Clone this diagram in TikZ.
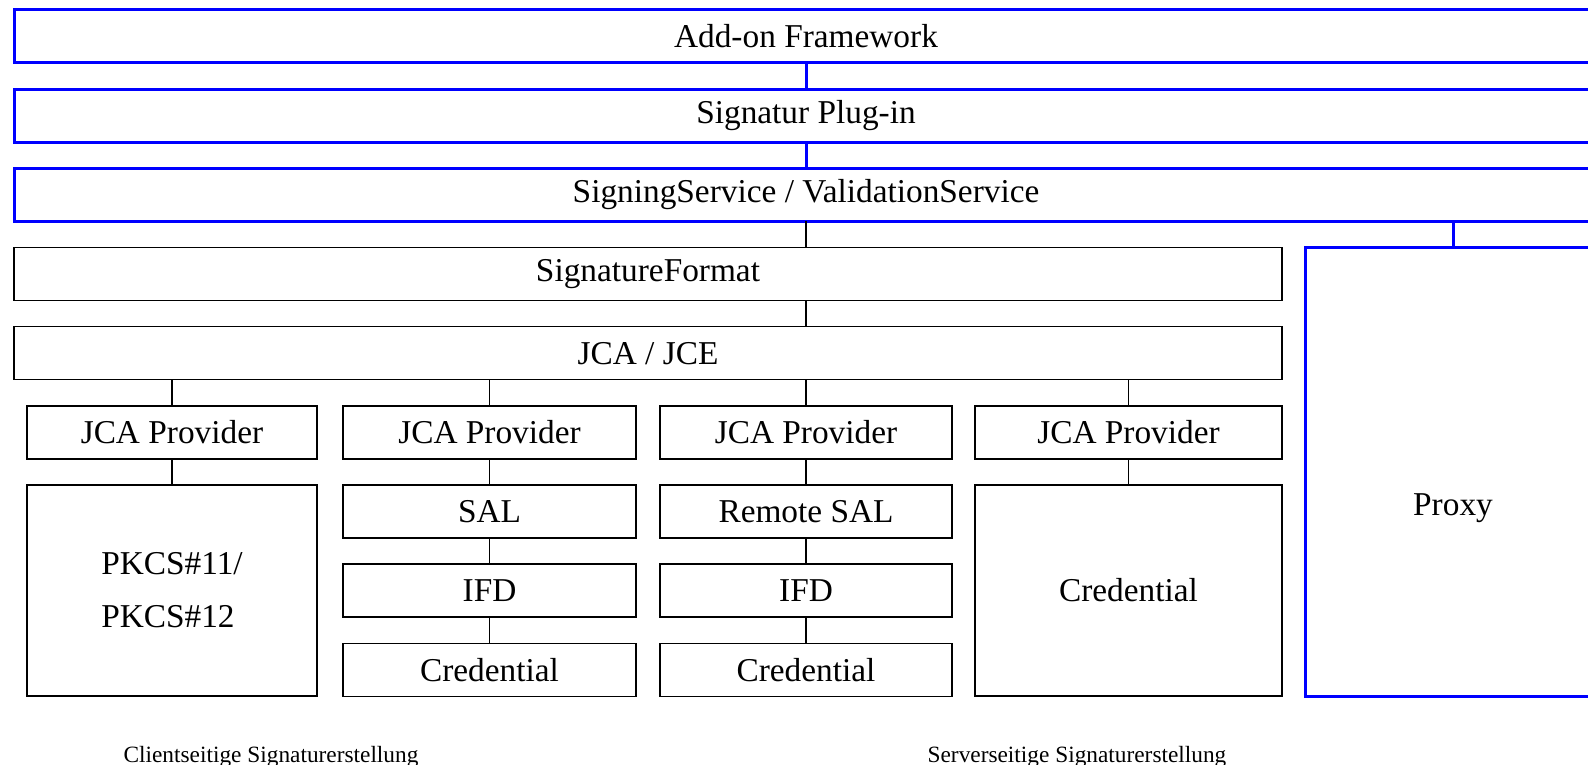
\documentclass[tikz,border=0pt]{standalone}
\usepackage{fontspec}
\setmainfont{Liberation Serif}
\usepackage{xcolor}
\definecolor{fwblue}{HTML}{0000FF}
\usepackage{tikz}
\usetikzlibrary{positioning}

\begin{document}
\begin{tikzpicture}[-,node distance=7.85pt,line width=0.45pt]
              \tikzstyle{box}=[draw,rectangle,inner sep=2pt,outer sep=0pt,minimum height=15.9pt,font=\fontsize{10}{12}\selectfont]
              \tikzstyle{be}=[draw=fwblue,line width=0.9pt]
              \tikzstyle{bl}=[color=fwblue,line width=0.9pt]
              \tikzstyle{lbl}=[font=\fontsize{10}{12}\selectfont]
              \tikzstyle{sidelbl}=[font=\fontsize{7}{8.4}\selectfont]

              \useasboundingbox (0,0) rectangle (476.4pt,-229.5pt);

              \node[box,be]  (fw)    [anchor=north west,minimum width=475.2pt] at (4.2pt,-3pt) {Add-on Framework};
              \node[box,be]  (plug)  [below=of fw,minimum width=475.2pt]                       {Signatur Plug-in};
              \node[box,be]  (svc)   [below=of plug,minimum width=475.2pt]                     {SigningService / ValidationService};
              \node[box]     (sf)    [below right=7.85pt and 0pt of svc.south west,minimum width=380.4pt] {SignatureFormat};
              \node[box]     (jca)   [below=of sf,minimum width=380.4pt]                       {JCA / JCE};
              \node[box]     (p1)    [below right=7.85pt and 3.9pt of jca.south west,minimum width=87pt] {JCA Provider};
              \node[box]     (p2)    [right=7.8pt of p1,minimum width=87.9pt]                  {JCA Provider};
              \node[box]     (p3)    [right=7.2pt of p2,minimum width=87.6pt]                  {JCA Provider};
              \node[box]     (p4)    [right=6.9pt of p3,minimum width=92.1pt]                  {JCA Provider};
              \node[box]     (pkcs)  [below=of p1,minimum width=87pt,minimum height=63.3pt,align=left,
                                      font=\fontsize{10}{15.9}\selectfont]                     {PKCS\#11/\\PKCS\#12};
              \node[box]     (sal)   [below=of p2,minimum width=87.9pt]                        {SAL};
              \node[box]     (ifd1)  [below=of sal,minimum width=87.9pt]                       {IFD};
              \node[box]     (cr1)   [below=of ifd1,minimum width=87.9pt]                      {Credential};
              \node[box]     (rsal)  [below=of p3,minimum width=87.6pt]                        {Remote SAL};
              \node[box]     (ifd2)  [below=of rsal,minimum width=87.6pt]                      {IFD};
              \node[box]     (cr2)   [below=of ifd2,minimum width=87.6pt]                      {Credential};
              \node[box]     (cr3)   [below=of p4,minimum width=92.1pt,minimum height=63.3pt]  {Credential};
              \node[box,be]  (proxy) [below right=0pt and 6.9pt of sf.north east,minimum width=88.8pt,minimum height=134.7pt] {};
              \node[lbl]     (prx)   at ([yshift=-78.3pt]proxy.north)                          {Proxy};

              \node[sidelbl] (cl)    at (81.3pt,-227pt)                                        {Clientseitige Signaturerstellung};
              \node[sidelbl] (sv)    at (323.1pt,-227pt)                                       {Serverseitige Signaturerstellung};

              \draw[bl] (fw) -- (plug);
              \draw[bl] (plug) -- (svc);
              \draw[bl] (svc.south -| proxy) -- (proxy);
              \draw (svc.south -| p3) -- (sf.north -| p3);
              \draw (sf.south -| p3) -- (jca.north -| p3);
              \foreach \p in {p1,p2,p3,p4}
                \draw (jca.south -| \p) -- (\p);
              \draw (p1) -- (pkcs);
              \draw (p2) -- (sal) -- (ifd1) -- (cr1);
              \draw (p3) -- (rsal) -- (ifd2) -- (cr2);
              \draw (p4) -- (cr3);
       \end{tikzpicture}
\end{document}
